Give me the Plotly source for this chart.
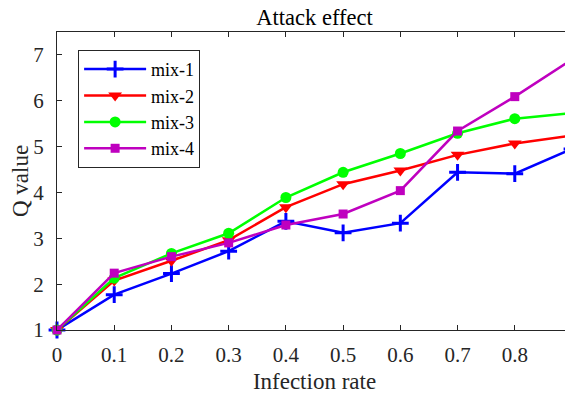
import plotly.graph_objects as go

infection_rate = [0, 0.1, 0.2, 0.3, 0.4, 0.5, 0.6, 0.7, 0.8, 0.9]
mix1 = [1.0, 1.77, 2.23, 2.72, 3.37, 3.12, 3.33, 4.44, 4.41, 4.95]
mix2 = [1.0, 2.08, 2.51, 2.96, 3.68, 4.18, 4.48, 4.82, 5.07, 5.24]
mix3 = [1.0, 2.13, 2.67, 3.11, 3.89, 4.44, 4.85, 5.29, 5.61, 5.73]
mix4 = [1.0, 2.24, 2.60, 2.90, 3.29, 3.53, 4.04, 5.34, 6.09, 6.90]

names = ["mix-1", "mix-2", "mix-3", "mix-4"]
series = [mix1, mix2, mix3, mix4]
colors = ["#0000ff", "#ff0000", "#00ff00", "#bf00bf"]
symbols = ["cross-thin", "triangle-down", "circle", "square"]
sizes = [12, 12, 11, 9]
tick_vals_x = [0, 0.1, 0.2, 0.3, 0.4, 0.5, 0.6, 0.7, 0.8]
tick_text_x = ["0", "0.1", "0.2", "0.3", "0.4", "0.5", "0.6", "0.7", "0.8"]
tick_vals_y = [1, 2, 3, 4, 5, 6, 7]

fig = go.Figure()
for name, ys, c, s, sz in zip(names, series, colors, symbols, sizes):
    fig.add_trace(go.Scatter(
        x=infection_rate, y=ys, name=name, mode="lines+markers",
        line=dict(color=c, width=2.5),
        marker=dict(symbol=s, size=sz, color=c,
                    line=dict(color=c, width=3 if s == "cross-thin" else 0)),
        cliponaxis=False,
    ))

axis_col = "#262626"
fig.update_layout(
    width=573, height=394,
    margin=dict(l=49, r=9, t=24, b=72, autoexpand=False),
    paper_bgcolor="white", plot_bgcolor="white",
    font=dict(family="Liberation Serif", size=21, color=axis_col),
    title=dict(text="Attack effect", x=0.5, xanchor="center", y=0.997, yanchor="top",
               xref="paper",
               font=dict(family="Liberation Serif", size=22.5, color="black")),
    showlegend=True,
    legend=dict(x=0.041, y=0.94, xanchor="left", yanchor="top",
                bgcolor="white", bordercolor=axis_col, borderwidth=1,
                font=dict(family="Liberation Serif", size=18, color="black"),
                itemwidth=62, tracegroupgap=0),
)
fig.update_xaxes(
    range=[0, 0.9], tickvals=tick_vals_x, ticktext=tick_text_x,
    ticks="inside", ticklen=5, tickcolor=axis_col, showline=True, linecolor=axis_col,
    linewidth=1, mirror="ticks", showgrid=False, zeroline=False, automargin=False,
    title=dict(text="Infection rate", font=dict(size=23, color=axis_col), standoff=6),
    tickfont=dict(size=21), ticklabelstandoff=6,
)
fig.update_yaxes(
    range=[1, 7.5], tickvals=tick_vals_y,
    ticks="inside", ticklen=5, tickcolor=axis_col, showline=True, linecolor=axis_col,
    linewidth=1, mirror="ticks", showgrid=False, zeroline=False, automargin=False,
    title=dict(text="Q value", font=dict(size=23, color=axis_col), standoff=6),
    tickfont=dict(size=21), ticklabelstandoff=8,
)
fig.write_html("out.html")
